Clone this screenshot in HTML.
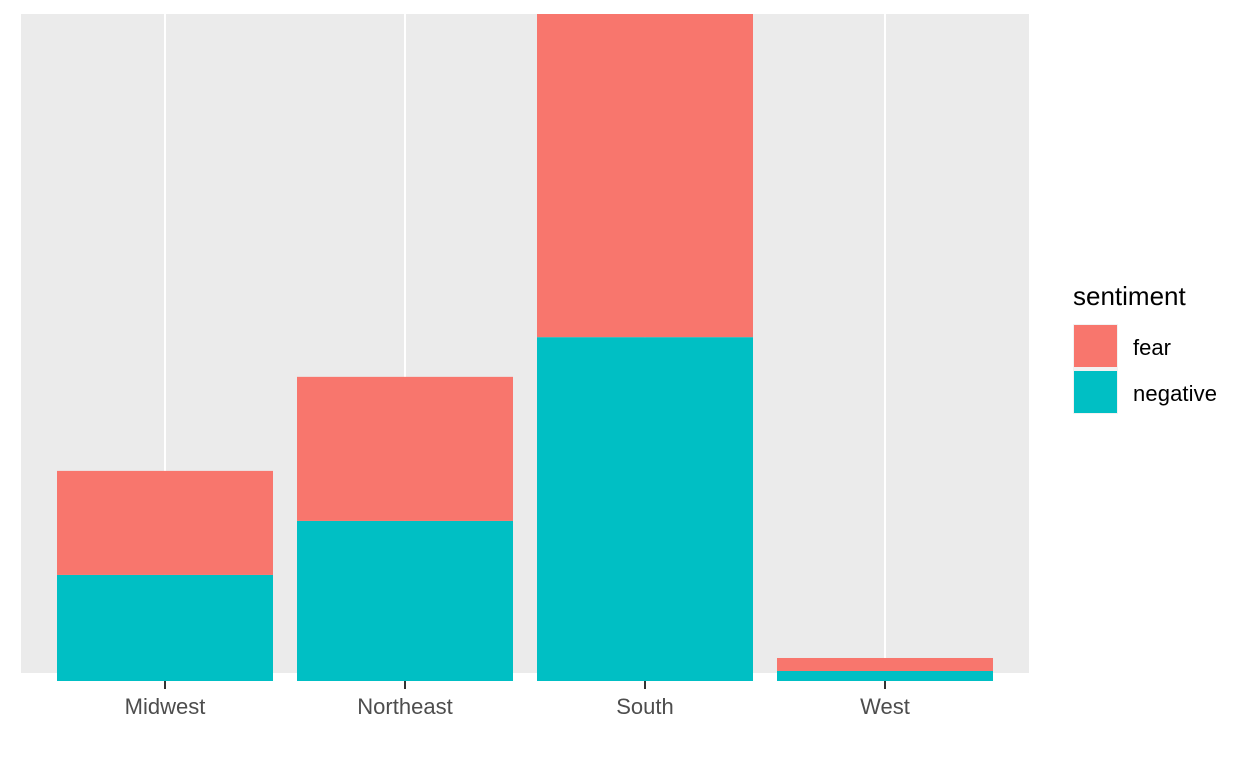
<!DOCTYPE html>
<html><head><meta charset="utf-8"><style>
body{margin:0;background:#fff;}
svg{display:block;font-family:"Liberation Sans",Arial,sans-serif;}
</style></head><body>
<svg id="chart" width="1248" height="768">
<rect x="21" y="14" width="1008" height="659" fill="#EBEBEB"/>
<g id="grid"></g><g id="bars"></g><g id="xaxis"></g>
<g>
<text x="1073" y="305" font-size="26" fill="#000">sentiment</text>
<rect x="1073" y="324" width="45" height="90" fill="#F2F2F2"/>
<rect x="1074" y="325" width="43" height="42" fill="#F8766D"/>
<rect x="1074" y="371" width="43" height="42" fill="#00BFC4"/>
<text x="1133" y="355" font-size="22" fill="#000">fear</text>
<text x="1133" y="401" font-size="22" fill="#000" textLength="84">negative</text>
</g>
</svg>
<script>
const categories=["Midwest","Northeast","South","West"];
const negativeValues=[31.8,48,103.1,3];
const fearValues=[31.2,43.2,96.9,3.9];
const NS="http://www.w3.org/2000/svg";
const baseY=681, topY=14;
const maxTotal=Math.max(...categories.map((c,i)=>negativeValues[i]+fearValues[i]));
const y=v=>baseY-v*(baseY-topY)/maxTotal;
const x=i=>165+i*240;
const bw=216;
function mk(tag,attrs,parent){const e=document.createElementNS(NS,tag);for(const k in attrs)e.setAttribute(k,attrs[k]);document.getElementById(parent).appendChild(e);return e;}
categories.forEach((c,i)=>{
 const g=mk('line',{x1:x(i),x2:x(i),y1:14,y2:673,stroke:'#fff','stroke-width':2},'grid');
 
 
 const n=negativeValues[i], f=fearValues[i];
 const b1=mk('rect',{x:x(i)-bw/2,y:y(n),width:bw,height:baseY-y(n),fill:'#00BFC4'},'bars');
 
 
 const b2=mk('rect',{x:x(i)-bw/2,y:y(n+f),width:bw,height:y(n)-y(n+f),fill:'#F8766D'},'bars');
 
 
 const t=mk('line',{x1:x(i),x2:x(i),y1:681,y2:689,stroke:'#333','stroke-width':2},'xaxis');
 
 
 const l=mk('text',{x:x(i),y:714,'text-anchor':'middle','font-size':'22',fill:'#4D4D4D'},'xaxis');
 l.textContent=c;
 
 
});
</script>
</body></html>
